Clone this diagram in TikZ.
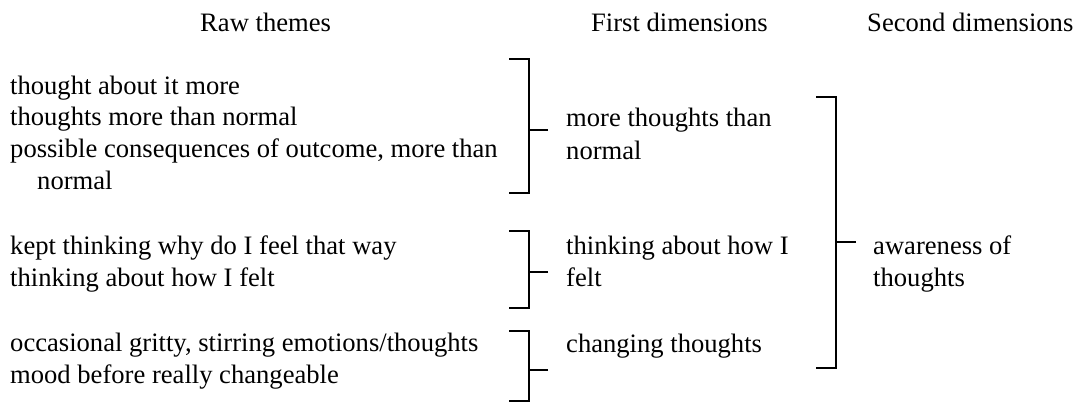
\documentclass[tikz,border=0pt]{standalone}
\usepackage{fontspec}
\setmainfont{Liberation Serif}
\begin{document}
\begin{tikzpicture}[x=1pt,y=-1pt,
  txt/.style={anchor=base west, inner sep=0pt, font=\fontsize{26.6}{32}\selectfont},
  brk/.style={line width=1.6pt}]
\useasboundingbox (0,0) rectangle (1076,403);
% headers
\node[txt] (h1) at (200,32) {Raw themes};
\node[txt] (h2) at (591,32) {First dimensions};
\node[txt] (h3) at (867,32) {Second dimensions};
% raw themes
\node[txt] (r1) at (10,95) {thought about it more};
\node[txt] (r2) at (10,126) {thoughts more than normal};
\node[txt] (r3) at (10,158) {possible consequences of outcome, more than};
\node[txt] (r4) at (37,190) {normal};
\node[txt] (r5) at (10,255) {kept thinking why do I feel that way};
\node[txt] (r6) at (10,287) {thinking about how I felt};
\node[txt] (r7) at (10,351) {occasional gritty, stirring emotions/thoughts};
\node[txt] (r8) at (10,383) {mood before really changeable};
% first dimensions
\node[txt] (f1) at (566,127) {more thoughts than};
\node[txt] (f1b) at (566,160) {normal};
\node[txt] (f2) at (566,255) {thinking about how I};
\node[txt] (f2b) at (566,287) {felt};
\node[txt] (f3) at (566,352) {changing thoughts};
% second dimensions
\node[txt] (s1) at (873,255) {awareness of};
\node[txt] (s1b) at (873,287) {thoughts};
% brackets
\coordinate (b1t) at (509,59);  \coordinate (b1b) at (509,193); \coordinate (b1m) at (548,130);
\coordinate (b2t) at (509,231); \coordinate (b2b) at (509,308); \coordinate (b2m) at (548,272);
\coordinate (b3t) at (509,331); \coordinate (b3b) at (509,401); \coordinate (b3m) at (548,370);
\coordinate (b4t) at (816,97);  \coordinate (b4b) at (816,368); \coordinate (b4m) at (856,242);
\draw[brk] (b1t) -- ++(20,0) |- (b1b);
\draw[brk] (b1m) -- ++(-19,0);
\draw[brk] (b2t) -- ++(20,0) |- (b2b);
\draw[brk] (b2m) -- ++(-19,0);
\draw[brk] (b3t) -- ++(20,0) |- (b3b);
\draw[brk] (b3m) -- ++(-19,0);
\draw[brk] (b4t) -- ++(20,0) |- (b4b);
\draw[brk] (b4m) -- ++(-20,0);
\end{tikzpicture}
\end{document}
